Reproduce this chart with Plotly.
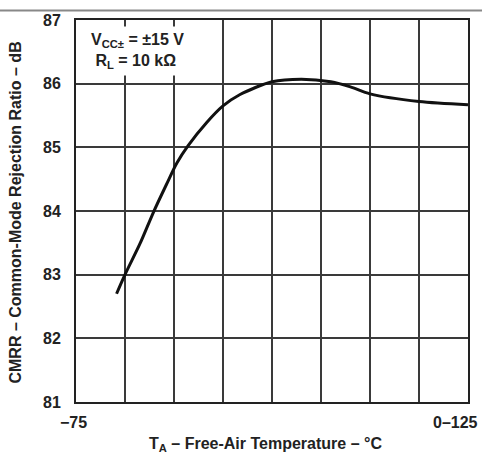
import plotly.graph_objects as go

temp_c = [-54.3, -50, -42.3, -35.5, -28.8, -23.6, -17.7, -8.3, 0, 8.7, 25, 40, 55, 65, 75, 100, 125]
cmrr_db = [82.70, 83.00, 83.49, 83.98, 84.42, 84.75, 85.03, 85.39, 85.65, 85.83, 86.03, 86.07, 86.03, 85.95, 85.84, 85.72, 85.67]

x_grid = [-75, -50, -25, 0, 25, 50, 75, 100, 125]
y_ticks = [81, 82, 83, 84, 85, 86, 87]
y_labels = ["81", "82", "83", "84", "85", "86", "87"]
x_left_label = "\u221275"
x_right_label = "0\u2013125"

FONT = "Liberation Sans, Arial, sans-serif"
INK = "#222"

fig = go.Figure()
fig.add_trace(go.Scatter(x=temp_c, y=cmrr_db, mode="lines",
                         line=dict(color="#111", width=3, shape="spline", smoothing=0.8),
                         showlegend=False, hoverinfo="skip"))

fig.update_layout(
    width=482, height=456,
    margin=dict(l=76, r=14, t=12, b=54),
    paper_bgcolor="white", plot_bgcolor="white",
    font=dict(family=FONT, size=16, color=INK),
    xaxis=dict(range=[-75, 125], tickvals=x_grid, showticklabels=False,
               showgrid=True, gridcolor="#3a3a3a", gridwidth=1.5,
               showline=True, linecolor=INK, linewidth=2, mirror=True,
               ticks="", zeroline=False, fixedrange=True),
    yaxis=dict(range=[81, 87], tickvals=y_ticks, ticktext=y_labels,
               tickfont=dict(family=FONT, size=16, color=INK, weight="bold"),
               showgrid=True, gridcolor="#3a3a3a", gridwidth=1.5,
               showline=True, linecolor=INK, linewidth=2, mirror=True,
               ticks="", ticklabelstandoff=10, zeroline=False, fixedrange=True),
)

# y title
fig.add_annotation(x=-0.153, y=0.496, xref="paper", yref="paper", xanchor="center",
                   yanchor="middle", textangle=-90, showarrow=False,
                   text="<b>CMRR \u2013 Common-Mode Rejection Ratio \u2013 dB</b>",
                   font=dict(family=FONT, size=16, color=INK))

# x tick labels
fig.add_annotation(x=-75, y=0, xref="x", yref="paper", yshift=-10, yanchor="top",
                   xshift=-3, text="<b>" + x_left_label + "</b>", showarrow=False,
                   font=dict(family=FONT, size=16, color=INK))
fig.add_annotation(x=1.03, y=0, xref="paper", yref="paper", yshift=-10, yanchor="top",
                   xanchor="right", text="<b>" + x_right_label + "</b>", showarrow=False,
                   font=dict(family=FONT, size=16, color=INK))
# x title
fig.add_annotation(x=0.483, y=0, xref="paper", yref="paper", yshift=-31, yanchor="top",
                   text="<b>T<sub>A</sub> \u2013 Free-Air Temperature \u2013 \u00b0C</b>",
                   showarrow=False, font=dict(family=FONT, size=16, color=INK))

# condition box
fig.add_annotation(x=0.025, y=0.985, xref="paper", yref="paper", xanchor="left", yanchor="top",
                   align="left", showarrow=False, bgcolor="white", borderpad=4,
                   text="<b>V<sub>CC\u00b1</sub> = \u00b115 V<br> R<sub>L</sub> = 10 k\u03a9</b>",
                   font=dict(family=FONT, size=16, color=INK))

# page header rule
fig.add_shape(type="line", xref="paper", yref="paper", x0=-0.2, x1=1.1, y0=1.025, y1=1.025,
              line=dict(color="#888", width=2))

fig.write_html("out.html")
